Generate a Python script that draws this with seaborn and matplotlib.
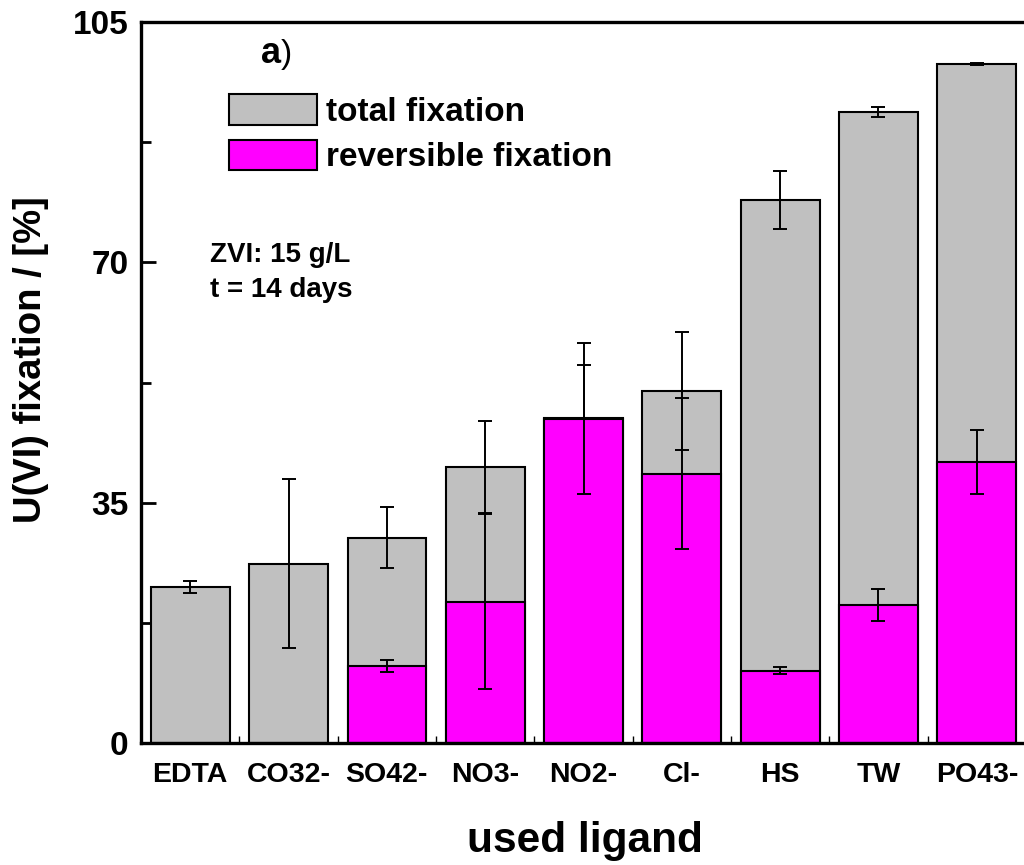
import matplotlib
matplotlib.use("Agg")
import matplotlib.pyplot as plt
from matplotlib.patches import Patch
from matplotlib.ticker import MultipleLocator
import seaborn as sns
import pandas as pd
import numpy as np

# ---- data ----
ligands = ["EDTA", "CO32-", "SO42-", "NO3-", "NO2-", "Cl-", "HS", "TW", "PO43-"]
total_fixation = [22.7, 26.1, 29.9, 40.2, 47.4, 51.2, 79.1, 91.9, 98.9]
total_error = [0.85, 12.3, 4.4, 6.7, 7.7, 8.6, 4.2, 0.7, 0.2]
rev_ligands = ["SO42-", "NO3-", "NO2-", "Cl-", "HS", "TW", "PO43-"]
reversible_fixation = [11.2, 20.6, 47.2, 39.2, 10.5, 20.1, 40.9]
reversible_error = [0.85, 12.8, 11.0, 11.0, 0.5, 2.35, 4.65]

GRAY = "#C0C0C0"
MAGENTA = "#FF00FF"

sns.set_style("ticks")
plt.rcParams["font.family"] = ["Liberation Sans", "DejaVu Sans"]
plt.rcParams["font.weight"] = "bold"
for key in ["text.color", "axes.labelcolor", "xtick.color", "ytick.color", "axes.edgecolor"]:
    plt.rcParams[key] = "black"

df_total = pd.DataFrame({"ligand": ligands, "value": total_fixation, "err": total_error})
df_rev = pd.DataFrame({"ligand": rev_ligands, "value": reversible_fixation, "err": reversible_error})

fig = plt.figure(figsize=(10.24, 8.65), dpi=100)
ax = fig.add_axes([141 / 1024, 1 - 743 / 865, 885 / 1024, 721 / 865])

sns.barplot(data=df_total, x="ligand", y="value", order=ligands, color=GRAY,
            saturation=1, width=0.8, edgecolor="black", linewidth=1.5,
            errorbar=None, ax=ax, zorder=2)
pos_t = [ligands.index(l) for l in df_total["ligand"]]
ax.errorbar(pos_t, df_total["value"], yerr=df_total["err"], fmt="none",
            ecolor="black", elinewidth=1.4, capsize=5, capthick=1.4, zorder=3)

sns.barplot(data=df_rev, x="ligand", y="value", order=ligands, color=MAGENTA,
            saturation=1, width=0.8, edgecolor="black", linewidth=1.5,
            errorbar=None, ax=ax, zorder=4)
pos_r = [ligands.index(l) for l in df_rev["ligand"]]
ax.errorbar(pos_r, df_rev["value"], yerr=df_rev["err"], fmt="none",
            ecolor="black", elinewidth=1.4, capsize=5, capthick=1.4, zorder=5)

ax.set_xlim(-0.5, len(ligands) - 0.5)
ax.set_ylim(0, 105)
ax.yaxis.set_major_locator(MultipleLocator(35))
ax.yaxis.set_minor_locator(MultipleLocator(17.5))
ax.set_xticks(range(len(ligands)))
ax.set_xticklabels(ligands)
ax.set_xticks(np.arange(-0.5, len(ligands), 1.0), minor=True)

for s in ax.spines.values():
    s.set_linewidth(2.4)
    s.set_zorder(10)
    s.set_visible(True)
    s.set_color("black")

ax.set_axisbelow(True)
ax.tick_params(axis="y", which="major", direction="in", length=11, width=2.0,
               labelsize=24, pad=9, colors="black")
ax.tick_params(axis="y", which="minor", direction="in", length=7, width=2.0, colors="black")
ax.tick_params(axis="x", which="major", direction="in", length=5, width=1.0,
               labelsize=20.5, pad=14, colors="black")
ax.tick_params(axis="x", which="minor", direction="in", length=5, width=1.0, colors="black")
for lab in ax.get_xticklabels() + ax.get_yticklabels():
    lab.set_fontweight("bold")

ax.set_xlabel("used ligand", fontsize=30.5, fontweight="bold", color="black")
ax.xaxis.set_label_coords(0.5017, -0.108)
ax.set_ylabel("U(VI) fixation / [%]", fontsize=27.5, fontweight="bold", color="black")
ax.yaxis.set_label_coords(-0.104, 0.532)

handles = [Patch(facecolor=GRAY, edgecolor="black", linewidth=1.5, label="total fixation"),
           Patch(facecolor=MAGENTA, edgecolor="black", linewidth=1.5, label="reversible fixation")]
leg = ax.legend(handles=handles, loc="upper left", frameon=False,
                bbox_to_anchor=(229 / 1024, 1 - 94 / 865), bbox_transform=fig.transFigure,
                borderpad=0, borderaxespad=0, handlelength=2.65, handleheight=1.05,
                handletextpad=0.25, labelspacing=0.35,
                prop={"size": 24, "weight": "bold"})
for t in leg.get_texts():
    t.set_color("black")

ax.text(261 / 1024, 1 - 63 / 865, "a", transform=fig.transFigure, fontsize=26,
        fontweight="bold", ha="left", va="baseline")
ax.text(281 / 1024, 1 - 63 / 865, ")", transform=fig.transFigure, fontsize=24,
        fontweight="normal", ha="left", va="baseline")
ax.text(210 / 1024, 1 - 262 / 865, "ZVI: 15 g/L", transform=fig.transFigure,
        fontsize=20, fontweight="bold", ha="left", va="baseline")
ax.text(210 / 1024, 1 - 297 / 865, "t = 14 days", transform=fig.transFigure,
        fontsize=20, fontweight="bold", ha="left", va="baseline")

fig.savefig("out.png", dpi=100)
